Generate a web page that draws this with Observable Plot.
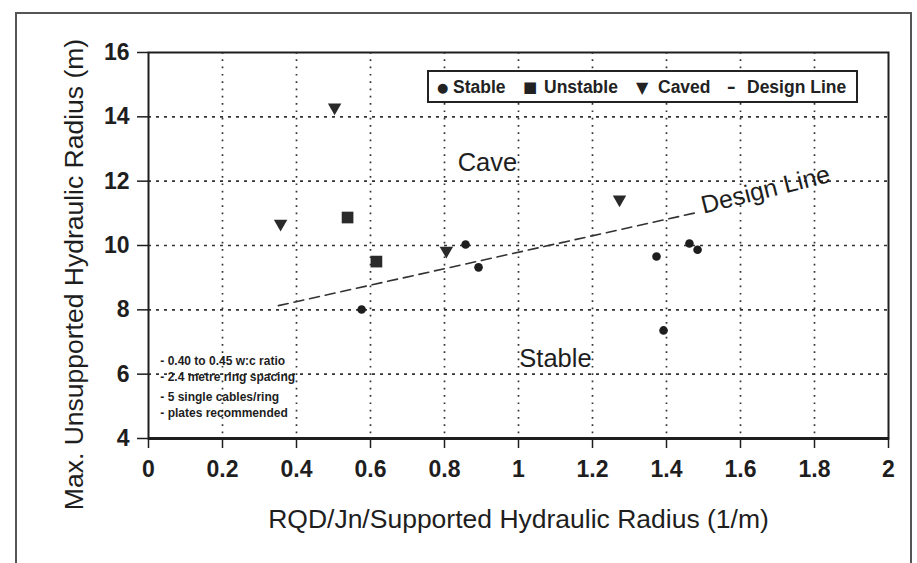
<!DOCTYPE html>
<html><head><meta charset="utf-8">
<script src="https://cdn.jsdelivr.net/npm/d3@7"></script>
<script src="https://cdn.jsdelivr.net/npm/@observablehq/plot@0.6"></script>
<style>
html,body{margin:0;padding:0;background:#fff;}
#wrap{position:relative;width:917px;height:563px;overflow:hidden;font-family:"Liberation Sans",Arial,sans-serif;}
#border{position:absolute;left:15px;top:12px;width:897px;height:600px;border:2px solid #555;box-sizing:border-box;}
#chart{position:absolute;left:0;top:0;}
#legend{position:absolute;left:427px;top:70px;width:431px;height:33px;border:2px solid #222;box-sizing:border-box;background:#fff;font-weight:bold;font-size:17.5px;color:#222;}
#legend span{position:absolute;top:50%;transform:translateY(-50%);white-space:nowrap;}
</style></head>
<body><div id="wrap"><div id="border"></div><div id="chart"></div><div id="legend"></div></div>
<script>
// ---- data ----
const stableX = [0.576, 0.857, 0.892, 1.373, 1.392, 1.462, 1.484];
const stableY = [8.01, 10.03, 9.32, 9.66, 7.36, 10.06, 9.87];
const unstableX = [0.538, 0.616];
const unstableY = [10.87, 9.50];
const cavedX = [0.357, 0.503, 0.805, 1.273];
const cavedY = [10.68, 14.29, 9.84, 11.43];
const designX = [0.351, 1.484];
const designY = [8.13, 11.03];

const xTicks = [0, 0.2, 0.4, 0.6, 0.8, 1, 1.2, 1.4, 1.6, 1.8, 2];
const xTickLabels = ["0", "0.2", "0.4", "0.6", "0.8", "1", "1.2", "1.4", "1.6", "1.8", "2"];
const yTicks = [4, 6, 8, 10, 12, 14, 16];
const yTickLabels = ["4", "6", "8", "10", "12", "14", "16"];
const gridXTicks = [0.2, 0.4, 0.6, 0.8, 1, 1.2, 1.4, 1.6, 1.8];
const gridYTicks = [6, 8, 10, 12, 14];

const xTitle = "RQD/Jn/Supported Hydraulic Radius (1/m)";
const yTitle = "Max. Unsupported Hydraulic Radius (m)";

const regionLabels = ["Cave", "Stable"];
const regionX = [0.916, 1.10];
const regionY = [12.58, 6.49];

const designLabel = "Design Line";
const designLabelX = [1.50];
const designLabelY = [10.99];

const notes = ["- 0.40 to 0.45 w:c ratio", "- 2.4 metre ring spacing", "- 5 single cables/ring", "- plates recommended"];
const notesX = [0.032, 0.032, 0.032, 0.032];
const notesY = [6.40, 5.90, 5.30, 4.78];

const legendNames = ["Stable", "Unstable", "Caved", "Design Line"];
const legendGlyphs = ["\u25CF", "\u25A0", "\u25BC", "\u2013"];

// ---- tables built from the arrays ----
const stable = stableX.map((x, i) => ({x, y: stableY[i]}));
const unstable = unstableX.map((x, i) => ({x, y: unstableY[i]}));
const caved = cavedX.map((x, i) => ({x, y: cavedY[i]}));
const design = designX.map((x, i) => ({x, y: designY[i]}));
const regions = regionLabels.map((t, i) => ({t, x: regionX[i], y: regionY[i]}));
const noteRows = notes.map((t, i) => ({t, x: notesX[i], y: notesY[i]}));

const ink = "#1e1e1e";
const plot = Plot.plot({
  width: 917, height: 563,
  marginLeft: 148, marginRight: 29, marginTop: 52, marginBottom: 125,
  x: {domain: [0, 2]},
  y: {domain: [4, 16]},
  style: {fontFamily: "Liberation Sans, Arial, sans-serif", background: "transparent", color: ink},
  marks: [
    Plot.gridX(gridXTicks, {stroke: "#333", strokeOpacity: 1, strokeWidth: 1.7, strokeDasharray: "1.7,5.6"}),
    Plot.gridY(gridYTicks, {stroke: "#333", strokeOpacity: 1, strokeWidth: 1.7, strokeDasharray: "3,5"}),
    Plot.frame({stroke: ink, strokeWidth: 2}),
    Plot.ruleY([4], {stroke: ink, strokeWidth: 3}),
    Plot.axisX({ticks: xTicks, tickFormat: d => xTickLabels[xTicks.indexOf(d)], tickSize: 10, tickPadding: 12,
      fontSize: 23, fontWeight: "bold", stroke: ink, strokeWidth: 1.5, label: null}),
    Plot.axisY({ticks: yTicks, tickFormat: d => yTickLabels[yTicks.indexOf(d)], tickSize: 11, tickPadding: 8,
      fontSize: 23, fontWeight: "bold", stroke: ink, strokeWidth: 1.5, label: null}),
    Plot.text([xTitle], {text: d => d, frameAnchor: "bottom", textAnchor: "middle", dy: 89, fontSize: 26.5, fill: ink}),
    Plot.text([yTitle], {text: d => d, frameAnchor: "left", textAnchor: "middle", rotate: -90, dx: -74, dy: 29,
      fontSize: 26.5, fill: ink}),
    Plot.line(design, {x: "x", y: "y", stroke: "#333", strokeWidth: 1.6, strokeDasharray: "10,6"}),
    Plot.text([designLabel], {x: designLabelX, y: designLabelY, text: d => d, textAnchor: "start", lineAnchor: "bottom",
      rotate: -14, fontSize: 25, fill: ink}),
    Plot.text(regions, {x: "x", y: "y", text: "t", fontSize: 25.5, fill: ink}),
    Plot.text(noteRows, {x: "x", y: "y", text: "t", textAnchor: "start", fontSize: 12, fontWeight: "bold", fill: ink}),
    Plot.dot(stable, {x: "x", y: "y", r: 4.3, fill: ink, stroke: "none"}),
    Plot.dot(unstable, {x: "x", y: "y", symbol: "square", r: 6.6, fill: "#2a2a2a", stroke: "none"}),
    Plot.dot(caved, {x: "x", y: "y", symbol: "triangle", r: 5, rotate: 180, fill: "#2a2a2a", stroke: "none"})
  ]
});
document.getElementById("chart").appendChild(plot);

// legend
const lg = document.getElementById("legend");
const glyphLeft = [8, 94, 207, 298];
const glyphSize = [13, 15, 16, 17];
const nameLeft = [24, 115, 229, 318];
legendNames.forEach((n, i) => {
  const g = document.createElement("span");
  g.textContent = legendGlyphs[i];
  g.style.left = glyphLeft[i] + "px";
  g.style.fontSize = glyphSize[i] + "px";
  g.style.fontFamily = "DejaVu Sans, sans-serif";
  lg.appendChild(g);
  const t = document.createElement("span");
  t.textContent = n;
  t.style.left = nameLeft[i] + "px";
  lg.appendChild(t);
});
</script>
</body></html>
